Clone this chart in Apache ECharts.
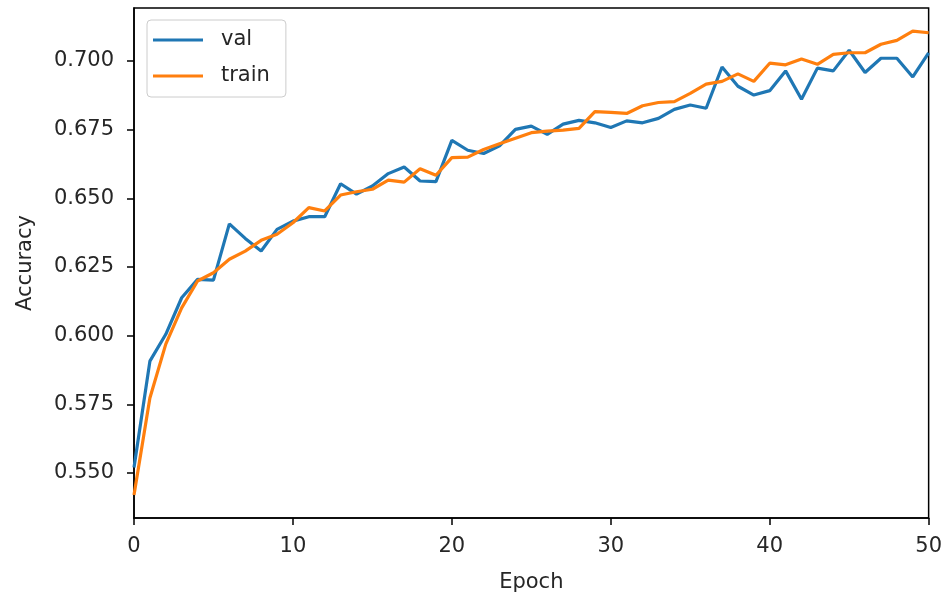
<!DOCTYPE html>
<html>
<head>
<meta charset="utf-8">
<script src="https://cdn.jsdelivr.net/npm/echarts@6/dist/echarts.min.js"></script>
<style>
html,body{margin:0;padding:0;background:#fff;}
#chart{width:945px;height:598px;}
</style>
</head>
<body>
<div id="chart"></div>
<script>
var epochs = [0,1,2,3,4,5,6,7,8,9,10,11,12,13,14,15,16,17,18,19,20,21,22,23,24,25,26,27,28,29,30,31,32,33,34,35,36,37,38,39,40,41,42,43,44,45,46,47,48,49,50];
var valAcc = [0.552,0.5907,0.6005,0.6138,0.6205,0.6202,0.6407,0.6354,0.6308,0.6387,
  0.6417,0.6433,0.6433,0.6553,0.6515,0.6545,0.6590,0.6614,0.6563,0.6561,
  0.6711,0.6675,0.6663,0.6691,0.6751,0.6763,0.6733,0.6770,0.6784,0.6775,
  0.6758,0.6782,0.6775,0.6791,0.6824,0.6840,0.6828,0.6978,0.6908,0.6876,
  0.6892,0.6964,0.6861,0.6974,0.6964,0.7039,0.6958,0.7010,0.7010,0.6942,0.7030];
var trainAcc = [0.542,0.5773,0.5969,0.6101,0.6199,0.6229,0.6278,0.6308,0.6347,0.6369,
  0.6411,0.6466,0.6454,0.6512,0.6524,0.6533,0.6566,0.6559,0.6608,0.6584,
  0.6648,0.6650,0.6678,0.6699,0.6719,0.6739,0.6745,0.6748,0.6755,0.6816,
  0.6813,0.6809,0.6837,0.6849,0.6852,0.6882,0.6916,0.6926,0.6953,0.6926,
  0.6992,0.6986,0.7007,0.6988,0.7024,0.7030,0.7030,0.7061,0.7075,0.7109,0.7103];
var yTicks = [0.550,0.575,0.600,0.625,0.650,0.675,0.700];
var seriesNames = ['val','train'];

function pairs(ys){ return epochs.map(function(e,i){ return [e, ys[i]]; }); }

var FONT = 'DejaVu Sans';
var TXT = '#262626';
var chart = echarts.init(document.getElementById('chart'), null, {renderer:'canvas'});
chart.setOption({
  animation:false,
  backgroundColor:'#ffffff',
  textStyle:{fontFamily:FONT},
  grid:{left:134,right:16,top:8,bottom:78,show:true,borderColor:'#000',borderWidth:1.5,backgroundColor:'transparent'},
  legend:{
    orient:'vertical',left:147,top:20,
    data:[{name:seriesNames[0],icon:'rect'},{name:seriesNames[1],icon:'rect'}],
    itemWidth:50,itemHeight:3,itemGap:14,
    padding:[9,16,10,6],
    backgroundColor:'rgba(255,255,255,0.8)',borderColor:'#cccccc',borderWidth:1,borderRadius:4,
    textStyle:{fontFamily:FONT,fontSize:21,color:TXT,lineHeight:22,padding:[0,0,0,13]}
  },
  xAxis:{
    type:'value',min:0,max:50,interval:10,
    name:'Epoch',nameLocation:'middle',nameGap:54,
    nameTextStyle:{fontFamily:FONT,fontSize:21,color:TXT},
    axisLine:{show:true,onZero:false,lineStyle:{color:'#000',width:1.5}},
    axisTick:{show:true,inside:false,length:7,lineStyle:{color:'#000',width:1.5}},
    axisLabel:{fontFamily:FONT,fontSize:21,color:TXT,margin:18},
    splitLine:{show:false}
  },
  yAxis:{
    type:'value',min:0.5336,max:0.7193,
    name:'Accuracy',nameLocation:'middle',nameGap:98,nameRotate:90,
    nameTextStyle:{fontFamily:FONT,fontSize:21,color:TXT},
    axisLine:{show:true,onZero:false,lineStyle:{color:'#000',width:1.5}},
    axisTick:{show:true,inside:false,length:7,customValues:yTicks,lineStyle:{color:'#000',width:1.5}},
    axisLabel:{fontFamily:FONT,fontSize:21,color:TXT,margin:20,customValues:yTicks,
      formatter:function(v){return v.toFixed(3);}},
    splitLine:{show:false}
  },
  series:[
    {name:seriesNames[0],type:'line',data:pairs(valAcc),showSymbol:false,symbol:'none',
     lineStyle:{color:'#1f77b4',width:3.2},itemStyle:{color:'#1f77b4'},z:2},
    {name:seriesNames[1],type:'line',data:pairs(trainAcc),showSymbol:false,symbol:'none',
     lineStyle:{color:'#ff7f0e',width:3.2},itemStyle:{color:'#ff7f0e'},z:3}
  ]
});
</script>
</body>
</html>
